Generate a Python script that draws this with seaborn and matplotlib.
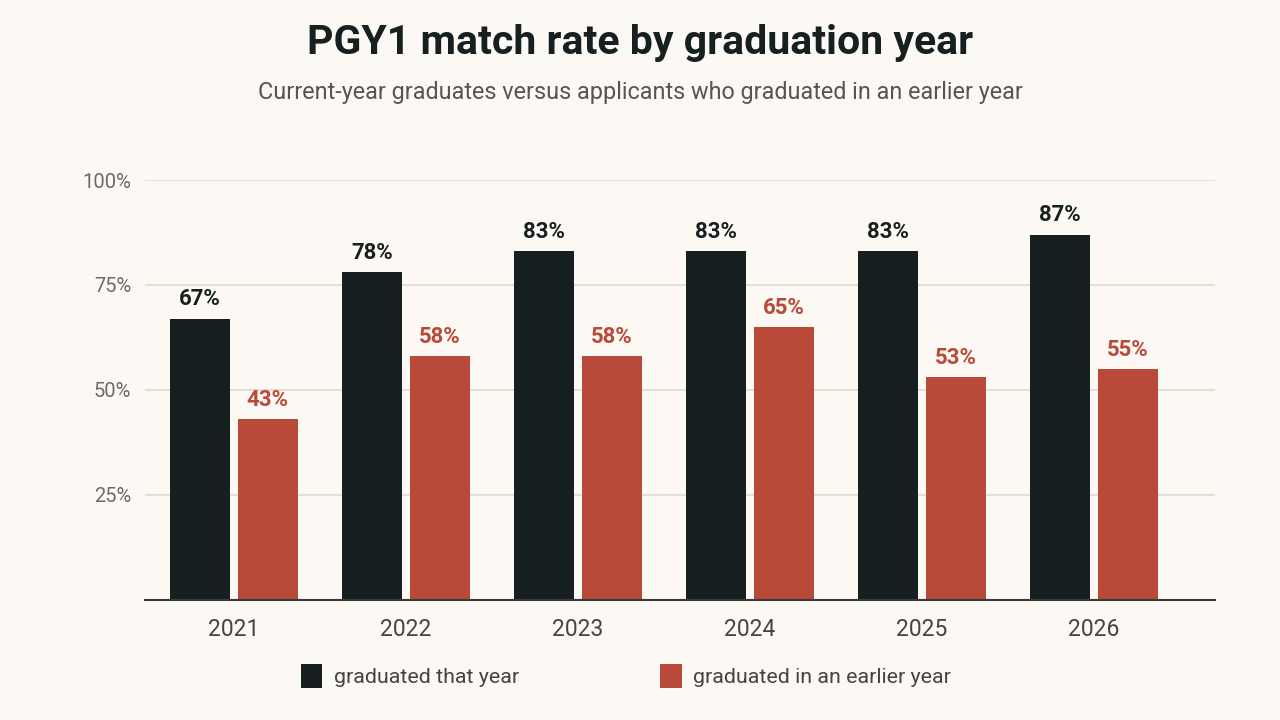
import matplotlib
matplotlib.use('Agg')
import matplotlib.pyplot as plt
from matplotlib.patches import Patch
import pandas as pd
import seaborn as sns

years = ['2021', '2022', '2023', '2024', '2025', '2026']
same_year = [67, 78, 83, 83, 83, 87]
earlier_year = [43, 58, 58, 65, 53, 55]
series_names = ['graduated that year', 'graduated in an earlier year']
y_ticks = [25, 50, 75, 100]

DARK = '#172020'
RED = '#b94a3a'
BG = '#fcf9f4'
GRID = '#e6ded2'

df = pd.DataFrame({
    'year': years * 2,
    'rate': same_year + earlier_year,
    'group': [series_names[0]] * len(years) + [series_names[1]] * len(years),
})

sns.set_theme(style='white')
plt.rcParams['font.family'] = ['Roboto', 'DejaVu Sans']

fig = plt.figure(figsize=(12.8, 7.2), dpi=100, facecolor=BG)
ax = fig.add_axes([0.1133, 0.1667, 0.8359, 0.5833])
ax.set_facecolor(BG)

sns.barplot(data=df, x='year', y='rate', hue='group', order=years,
            hue_order=series_names, palette=[DARK, RED], width=0.79,
            gap=0.116, saturation=1, legend=False, linewidth=0,
            ax=ax, zorder=3)

# value labels above bars
for container, color in zip(ax.containers, [DARK, RED]):
    labels = [f'{v:.0f}%' for v in container.datavalues]
    ax.bar_label(container, labels=labels, padding=6, color=color,
                 fontsize=16, fontweight='bold')

ax.set_ylim(0, 100)
ax.set_xlim(-0.517, 5.703)
ax.set_yticks(y_ticks)
ax.set_yticklabels([f'{t}%' for t in y_ticks])
ax.yaxis.grid(True, color=GRID, linewidth=1.5, zorder=0)
ax.set_axisbelow(True)
ax.tick_params(axis='y', length=0, labelsize=14.5, labelcolor='#6b6b6b', pad=10)
ax.tick_params(axis='x', length=0, labelsize=16.5, labelcolor='#444444', pad=13)
ax.set_xlabel('')
ax.set_ylabel('')
for side in ['top', 'right', 'left']:
    ax.spines[side].set_visible(False)
ax.spines['bottom'].set_color('#3a3a3a')
ax.spines['bottom'].set_linewidth(1.5)
ax.spines['bottom'].set_zorder(4)

fig.text(0.5, 0.940, 'PGY1 match rate by graduation year', ha='center',
         va='center', fontsize=29.5, fontweight='bold', color='#172020')
fig.text(0.5, 0.872, 'Current-year graduates versus applicants who graduated in an earlier year',
         ha='center', va='center', fontsize=16.8, color='#555555')

handles = [Patch(facecolor=DARK, edgecolor='none'), Patch(facecolor=RED, edgecolor='none')]
fig.legend(handles, series_names, loc='center', bbox_to_anchor=(0.489, 0.061),
           ncol=2, frameon=False, fontsize=15.4, labelcolor='#444444',
           handlelength=1.0, handleheight=1.3, handletextpad=0.55,
           columnspacing=6.6)

fig.savefig('out.png', dpi=100, facecolor=BG)
